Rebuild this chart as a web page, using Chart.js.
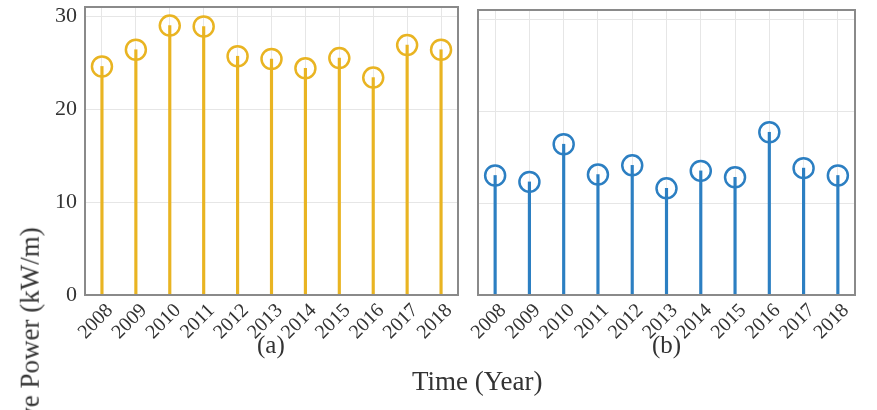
<!DOCTYPE html>
<html>
<head>
<meta charset="utf-8">
<script src="https://cdn.jsdelivr.net/npm/chart.js@4/dist/chart.umd.min.js"></script>
<style>
  html, body { margin: 0; padding: 0; background: #fff; }
  #page { position: relative; width: 877px; height: 410px; overflow: hidden; font-family: "Liberation Serif", "DejaVu Serif", serif; color: #333; }
  .panel { position: absolute; top: 0; }
  .txt { position: absolute; white-space: nowrap; }
</style>
</head>
<body>
<div id="page">
  <div class="panel" style="left:0;width:470px;height:410px"><canvas id="chartA"></canvas></div>
  <div class="panel" style="left:470px;width:407px;height:410px"><canvas id="chartB"></canvas></div>
  <div class="txt" style="left:257px;top:331px;font-size:25px">(a)</div>
  <div class="txt" style="left:652px;top:331px;font-size:25px">(b)</div>
  <div class="txt" style="left:412px;top:366px;font-size:27px">Time (Year)</div>
  <div class="txt" id="ylab" style="font-size:27px">Average Wave Power (kW/m)</div>
</div>
<script>
// Jahre und Werte
const years = ['2008', '2009', '2010', '2011', '2012', '2013', '2014', '2015', '2016', '2017', '2018'];
const powerA = [24.6, 26.4, 29.0, 28.9, 25.7, 25.4, 24.4, 25.5, 23.4, 26.9, 26.4];
const powerB = [13.0, 12.3, 16.4, 13.1, 14.1, 11.6, 13.5, 12.8, 17.7, 13.8, 13.0];
const yTicks = [0, 10, 20, 30];

const yellow = '#E9B422';
const blue = '#2C7FC2';

// y-Achsenbeschriftung drehen, oberes Ende bei y=227
const ylab = document.getElementById('ylab');
const w = ylab.offsetWidth, h = ylab.offsetHeight;
ylab.style.left = (30 - w / 2) + 'px';
ylab.style.top = (227 + w / 2 - h / 2) + 'px';
ylab.style.transform = 'rotate(-90deg)';

// Rahmen um die Zeichenfläche
const boxPlugin = {
    id: 'box',
    afterDraw(chart) {
        const a = chart.chartArea, ctx = chart.ctx;
        ctx.save();
        ctx.strokeStyle = '#8a8a8a';
        ctx.lineWidth = 2;
        ctx.strokeRect(a.left, a.top, a.right - a.left, a.bottom - a.top);
        ctx.restore();
    }
};

function makePanel(id, values, color, showY, leftW, padTop, padRight) {
    const ctx = document.getElementById(id).getContext('2d');
    return new Chart(ctx, {
        type: 'bar',
        data: {
            labels: years,
            datasets: [{
                type: 'line',
                data: values,
                showLine: false,
                pointRadius: 10,
                pointHoverRadius: 10,
                pointBorderWidth: 2.5,
                pointBorderColor: color,
                pointBackgroundColor: 'rgba(0,0,0,0)',
                order: 1
            }, {
                data: values,
                backgroundColor: color,
                barThickness: 2.5,
                order: 2
            }]
        },
        options: {
            responsive: true,
            maintainAspectRatio: false,
            animation: false,
            layout: { autoPadding: false, padding: { top: padTop, right: padRight, left: 0, bottom: 0 } },
            plugins: { legend: { display: false }, tooltip: { enabled: false } },
            scales: {
                x: {
                    offset: true,
                    grid: { offset: false, color: '#e6e6e6', drawTicks: false },
                    border: { display: false },
                    ticks: {
                        autoSkip: false,
                        minRotation: 45, maxRotation: 45, padding: 4,
                        labelOffset: 8,
                        color: '#333',
                        font: { family: 'Liberation Serif', size: 20 }
                    },
                    afterFit: s => { s.height = 115; s.paddingLeft = 0; s.paddingRight = 0; }
                },
                y: {
                    min: 0, max: 31,
                    grid: { color: '#e6e6e6', drawTicks: false },
                    border: { display: false },
                    afterBuildTicks: s => { s.ticks = yTicks.map(v => ({ value: v })); },
                    ticks: {
                        display: showY, padding: 8,
                        color: '#333',
                        font: { family: 'Liberation Serif', size: 22 }
                    },
                    afterFit: s => { s.width = leftW; s.paddingTop = 0; s.paddingBottom = 0; }
                }
            }
        },
        plugins: [boxPlugin]
    });
}

makePanel('chartA', powerA, yellow, true, 85, 7, 12);
makePanel('chartB', powerB, blue, false, 8, 10, 22);
</script>
</body>
</html>
